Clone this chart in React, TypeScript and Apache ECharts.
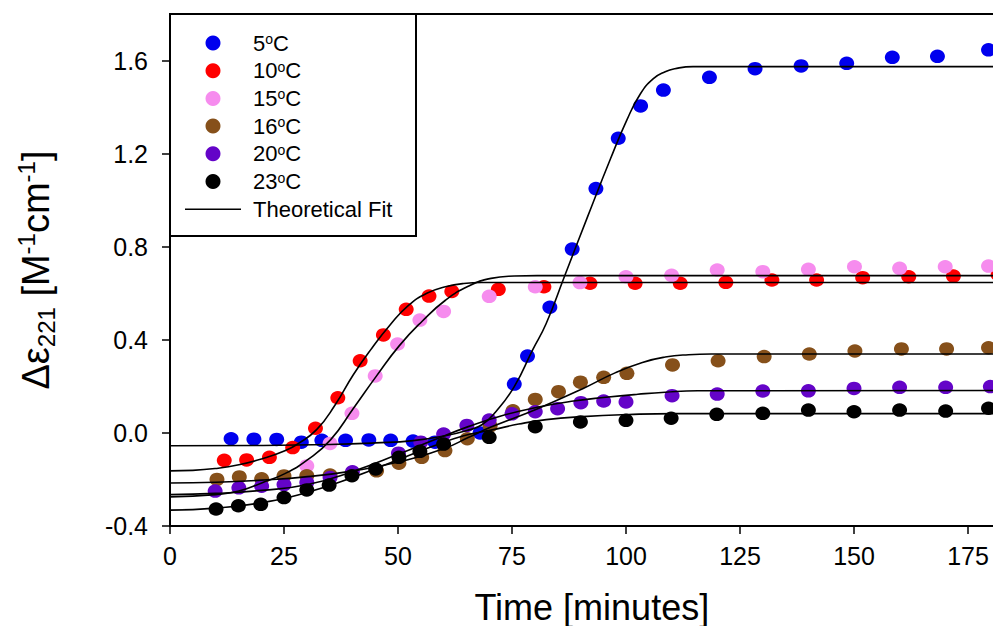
import React, { useEffect, useRef } from "react";
import * as echarts from "echarts";

// ---- data ----
const xTicks = [0, 25, 50, 75, 100, 125, 150, 175];
const yTicks = [-0.4, 0.0, 0.4, 0.8, 1.2, 1.6];

const temps = ["5°C", "10°C", "15°C", "16°C", "20°C", "23°C"];
const fitName = "Theoretical Fit";

const pts5 = [
  [13.4, -0.025], [18.4, -0.027], [23.4, -0.028], [28.8, -0.04], [33.3, -0.032], [38.5, -0.032],
  [43.6, -0.03], [48.4, -0.032], [53.3, -0.035], [58.1, -0.04], [68.0, 0.0], [75.5, 0.21],
  [78.4, 0.33], [83.3, 0.54], [88.2, 0.79], [93.4, 1.05], [98.3, 1.266], [103.2, 1.405],
  [108.2, 1.473], [118.3, 1.528], [128.3, 1.565], [138.4, 1.577], [148.4, 1.588],
  [158.4, 1.614], [168.3, 1.618], [179.5, 1.646],
];
const pts10 = [
  [11.9, -0.118], [16.8, -0.116], [21.8, -0.105], [26.9, -0.063], [31.9, 0.02], [36.8, 0.151],
  [41.7, 0.31], [46.8, 0.421], [51.8, 0.531], [56.8, 0.588], [61.8, 0.608], [72.0, 0.617],
  [82.0, 0.628], [92.1, 0.643], [102.0, 0.643], [111.9, 0.643], [121.9, 0.647], [132.0, 0.657],
  [141.8, 0.657], [151.9, 0.667], [162.0, 0.671], [171.8, 0.674], [181.6, 0.68],
];
const pts15 = [
  [30.0, -0.142], [35.1, -0.045], [39.9, 0.084], [45.0, 0.245], [49.9, 0.382], [54.8, 0.485],
  [60.0, 0.522], [70.0, 0.587], [80.1, 0.628], [89.9, 0.646], [100.0, 0.671], [110.0, 0.677],
  [120.0, 0.70], [130.0, 0.693], [140.0, 0.703], [150.1, 0.714], [160.0, 0.707], [170.0, 0.714],
  [179.5, 0.717],
];
const pts16 = [
  [10.3, -0.2], [15.2, -0.189], [20.1, -0.197], [25.0, -0.185], [30.0, -0.184], [35.1, -0.181],
  [45.3, -0.163], [50.2, -0.13], [55.2, -0.105], [60.3, -0.076], [65.2, -0.025], [70.2, 0.03],
  [75.2, 0.095], [80.1, 0.144], [85.2, 0.177], [90.0, 0.218], [95.1, 0.239], [100.2, 0.256],
  [110.2, 0.292], [120.2, 0.31], [130.3, 0.328], [140.2, 0.339], [150.2, 0.352], [160.4, 0.361],
  [170.3, 0.361], [179.5, 0.366],
];
const pts20 = [
  [9.9, -0.25], [15.1, -0.236], [20.1, -0.229], [25.0, -0.222], [30.0, -0.213], [35.1, -0.192],
  [40.0, -0.167], [50.1, -0.087], [55.0, -0.04], [60.0, -0.005], [65.1, 0.032], [70.0, 0.055],
  [75.0, 0.082], [80.1, 0.091], [85.0, 0.104], [90.1, 0.13], [95.1, 0.137], [100.0, 0.133],
  [110.1, 0.16], [120.0, 0.167], [130.0, 0.18], [140.0, 0.181], [150.0, 0.191], [160.0, 0.196],
  [170.1, 0.196], [179.9, 0.199],
];
const pts23 = [
  [10.1, -0.327], [15.0, -0.313], [19.9, -0.307], [25.0, -0.278], [30.0, -0.245], [34.9, -0.224],
  [39.9, -0.184], [45.1, -0.155], [50.2, -0.105], [54.8, -0.079], [60.0, -0.048], [70.0, -0.019],
  [80.1, 0.027], [90.0, 0.047], [100.0, 0.054], [109.9, 0.063], [119.9, 0.08], [130.0, 0.084],
  [140.0, 0.098], [150.0, 0.091], [160.0, 0.098], [170.1, 0.094], [179.5, 0.106],
];

// theoretical fit curves
const fit5 = [
  [0, -0.055], [20, -0.054], [35, -0.05], [45, -0.043], [53.3, -0.033], [60.4, -0.012],
  [65.4, 0.012], [68.4, 0.035], [71.4, 0.09], [75.5, 0.199], [79.5, 0.356], [82.5, 0.47],
  [86.5, 0.672], [91.5, 0.925], [96.6, 1.178], [100.2, 1.345], [103.1, 1.455], [106.0, 1.522],
  [108.6, 1.552], [110.7, 1.565], [114.7, 1.574], [185, 1.574],
];
const fit10 = [
  [0, -0.163], [5, -0.161], [10, -0.153], [15.1, -0.137], [20.1, -0.112], [25.2, -0.077],
  [28.2, -0.045], [32.2, 0.015], [36.2, 0.12], [40.2, 0.25], [44.3, 0.365], [48.3, 0.465],
  [52.3, 0.548], [56.3, 0.6], [60.4, 0.628], [64.4, 0.642], [68.4, 0.646], [185, 0.646],
];
const fit15 = [
  [0, -0.275], [10, -0.265], [15.1, -0.25], [20.1, -0.215], [25.2, -0.175], [30.2, -0.115],
  [35.2, -0.03], [40.2, 0.105], [45.3, 0.245], [50.3, 0.375], [55.3, 0.48], [60.4, 0.57],
  [65.4, 0.63], [70.4, 0.664], [75.5, 0.674], [80.5, 0.676], [185, 0.676],
];
const fit16 = [
  [0, -0.215], [10, -0.212], [20.1, -0.203], [30.2, -0.188], [40.2, -0.163], [50.3, -0.124],
  [60.4, -0.065], [65.4, -0.02], [70.4, 0.025], [80.5, 0.103], [90.5, 0.19], [97.6, 0.258],
  [103.6, 0.303], [108.6, 0.326], [113.7, 0.336], [118.7, 0.339], [185, 0.339],
];
const fit20 = [
  [0, -0.265], [10, -0.26], [20.1, -0.247], [30.2, -0.222], [40.2, -0.165], [50.3, -0.09],
  [57.3, -0.035], [65.4, 0.027], [72.4, 0.072], [80.5, 0.11], [88.5, 0.137], [95.6, 0.153],
  [102.6, 0.166], [108.6, 0.175], [115.7, 0.181], [185, 0.182],
];
const fit23 = [
  [0, -0.332], [10, -0.323], [20.1, -0.3], [30.2, -0.255], [40.2, -0.19], [50.3, -0.113],
  [57.3, -0.06], [64.4, -0.012], [70.4, 0.012], [76.5, 0.038], [82.5, 0.057], [90.5, 0.07],
  [100.6, 0.079], [110.7, 0.083], [185, 0.083],
];

const pointSets = [pts5, pts10, pts15, pts16, pts20, pts23];
const fitSets = [fit5, fit10, fit15, fit16, fit20, fit23];

// ---- styles ----
const colors = ["#0000ee", "#ff0000", "#f68cee", "#86501a", "#6404c8", "#000000"];
const FONT = "'Liberation Sans', Arial, Helvetica, sans-serif";

export default function App() {
  const ref = useRef<HTMLDivElement>(null);

  useEffect(() => {
    if (!ref.current) return;
    const chart = echarts.init(ref.current, null, { renderer: "svg" });

    const scatterSeries = temps.map((name, i) => ({
      type: "scatter",
      name,
      data: pointSets[i],
      symbol: "circle",
      symbolSize: [15, 13.5],
      itemStyle: { color: colors[i], opacity: 1 },
      z: 2,
      clip: true,
    }));
    const fitSeries = fitSets.map((d) => ({
      type: "line",
      name: fitName,
      data: d,
      symbol: "none",
      showSymbol: false,
      smooth: 0.5,
      lineStyle: { color: "#000", width: 1.6 },
      itemStyle: { color: "#000" },
      z: 3,
      clip: true,
    }));

    const option: any = {
      animation: false,
      backgroundColor: "#ffffff",
      textStyle: { fontFamily: FONT },
      grid: {
        left: 170,
        top: 14,
        width: 185 * 4.56,
        height: 512,
        containLabel: false,
        outerBoundsMode: "none",
        show: true,
        borderColor: "#000",
        borderWidth: 2,
        backgroundColor: "transparent",
      },
      xAxis: {
        type: "value",
        min: 0,
        max: 185,
        interval: 25,
        axisLine: { show: true, onZero: false, lineStyle: { color: "#000", width: 2 } },
        axisTick: { show: true, length: 8, customValues: xTicks, lineStyle: { color: "#000", width: 1.5 } },
        axisLabel: {
          customValues: xTicks,
          fontSize: 25,
          color: "#000",
          fontFamily: FONT,
          margin: 17,
        },
        splitLine: { show: false },
        name: "Time [minutes]",
        nameLocation: "middle",
        nameGap: 63,
        nameTextStyle: { fontSize: 36, color: "#000", fontFamily: FONT },
      },
      yAxis: {
        type: "value",
        min: -0.4,
        max: 1.8,
        interval: 0.4,
        axisLine: { show: true, onZero: false, lineStyle: { color: "#000", width: 2 } },
        axisTick: { show: true, length: 8, customValues: yTicks, lineStyle: { color: "#000", width: 1.5 } },
        axisLabel: {
          customValues: yTicks,
          fontSize: 25,
          color: "#000",
          fontFamily: FONT,
          margin: 22,
          formatter: (v: number) => v.toFixed(1),
        },
        splitLine: { show: false },
        name: "{b|Δε}{sub|221}{b| [M}{sup|-1}{b|cm}{sup|-1}{b|]}",
        nameLocation: "middle",
        nameGap: 112,
        nameTextStyle: {
          color: "#000",
          fontFamily: FONT,
          fontSize: 38,
          rich: {
            b: { fontSize: 38, fontFamily: FONT, color: "#000", lineHeight: 44 },
            sub: { fontSize: 24, fontFamily: FONT, color: "#000", lineHeight: 24, verticalAlign: "bottom" },
            sup: { fontSize: 24, fontFamily: FONT, color: "#000", lineHeight: 24, verticalAlign: "top" },
          },
        },
      },
      legend: {
        orient: "vertical",
        left: 185,
        top: 32,
        padding: 0,
        itemWidth: 56,
        itemHeight: 15,
        itemGap: 5.7,
        selectedMode: false,
        data: [
          ...temps.map((n) => ({ name: n, icon: "circle" })),
          { name: fitName, icon: "path://M0,0L56,0L56,1.6L0,1.6Z", itemStyle: { color: "#000" } },
        ],
        formatter: (name: string) => name.replace("°", "{s|o}"),
        textStyle: {
          fontFamily: FONT,
          fontSize: 22,
          color: "#000",
          lineHeight: 22,
          padding: [0, 0, 0, 7],
          rich: {
            s: { fontFamily: FONT, fontSize: 14, color: "#000", lineHeight: 14, verticalAlign: "top" },
          },
        },
      },
      graphic: [
        {
          type: "rect",
          z: 1,
          shape: { x: 170, y: 14, width: 246, height: 222 },
          style: { fill: "#fff", stroke: "#000", lineWidth: 2 },
        },
      ],
      series: [...scatterSeries, ...fitSeries],
    };

    chart.setOption(option);
    return () => chart.dispose();
  }, []);

  return (
    <div
      ref={ref}
      style={{ position: "fixed", left: 0, top: 0, width: 993, height: 626, background: "#fff" }}
    />
  );
}
